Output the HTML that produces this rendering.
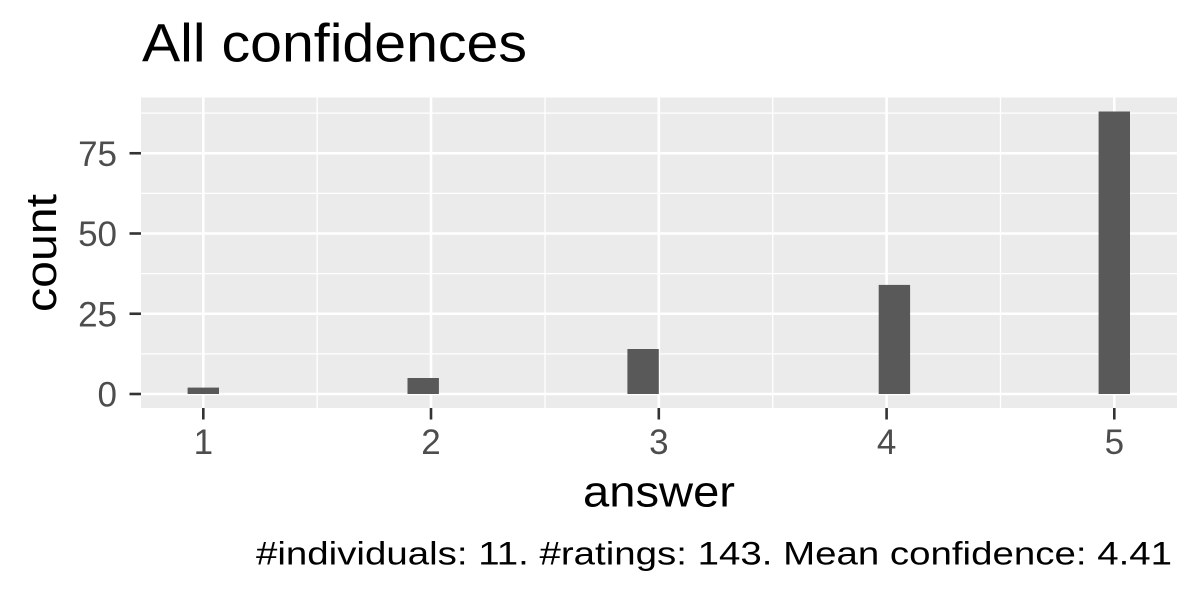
<!DOCTYPE html>
<html>
<head>
<meta charset="utf-8">
<style>
  html, body { margin: 0; padding: 0; background: #ffffff; }
  svg { display: block; }
  text { font-family: "Liberation Sans", "DejaVu Sans", sans-serif; }
</style>
</head>
<body>
<svg width="1200" height="600" viewBox="0 0 1200 600" xmlns="http://www.w3.org/2000/svg">
  <rect x="0" y="0" width="1200" height="600" fill="#ffffff"/>

  <!-- Title -->
  <text x="142" y="61.7" font-size="54" fill="#000000" textLength="385" lengthAdjust="spacingAndGlyphs">All confidences</text>

  <!-- Panel -->
  <rect x="141" y="97.5" width="1036" height="310.5" fill="#EBEBEB"/>

  <!-- Minor gridlines -->
  <g stroke="#ffffff" stroke-width="1.3">
    <line x1="141" x2="1177" y1="353.9" y2="353.9"/>
    <line x1="141" x2="1177" y1="273.6" y2="273.6"/>
    <line x1="141" x2="1177" y1="193.4" y2="193.4"/>
    <line x1="141" x2="1177" y1="113.1" y2="113.1"/>
    <line y1="97.5" y2="408" x1="317.2" x2="317.2"/>
    <line y1="97.5" y2="408" x1="545" x2="545"/>
    <line y1="97.5" y2="408" x1="772.7" x2="772.7"/>
    <line y1="97.5" y2="408" x1="1000.5" x2="1000.5"/>
  </g>
  <!-- Major gridlines -->
  <g stroke="#ffffff" stroke-width="2.6">
    <line x1="141" x2="1177" y1="394" y2="394"/>
    <line x1="141" x2="1177" y1="313.75" y2="313.75"/>
    <line x1="141" x2="1177" y1="233.5" y2="233.5"/>
    <line x1="141" x2="1177" y1="153.25" y2="153.25"/>
    <line y1="97.5" y2="408" x1="203.3" x2="203.3"/>
    <line y1="97.5" y2="408" x1="431" x2="431"/>
    <line y1="97.5" y2="408" x1="658.8" x2="658.8"/>
    <line y1="97.5" y2="408" x1="886.6" x2="886.6"/>
    <line y1="97.5" y2="408" x1="1114.3" x2="1114.3"/>
  </g>

  <!-- Bars -->
  <g fill="#595959">
    <rect x="187.6" y="387.6" width="31.4" height="6.4"/>
    <rect x="407.5" y="378" width="31.4" height="16"/>
    <rect x="627.4" y="349" width="31.4" height="45"/>
    <rect x="878.7" y="284.9" width="31.4" height="109.1"/>
    <rect x="1098.6" y="111.5" width="31.4" height="282.5"/>
  </g>

  <!-- Axis ticks -->
  <g stroke="#333333" stroke-width="2.6">
    <line x1="129.5" x2="141" y1="394" y2="394"/>
    <line x1="129.5" x2="141" y1="313.75" y2="313.75"/>
    <line x1="129.5" x2="141" y1="233.5" y2="233.5"/>
    <line x1="129.5" x2="141" y1="153.25" y2="153.25"/>
    <line y1="408" y2="419.5" x1="203.3" x2="203.3"/>
    <line y1="408" y2="419.5" x1="431" x2="431"/>
    <line y1="408" y2="419.5" x1="658.8" x2="658.8"/>
    <line y1="408" y2="419.5" x1="886.6" x2="886.6"/>
    <line y1="408" y2="419.5" x1="1114.3" x2="1114.3"/>
  </g>

  <!-- Y tick labels -->
  <g font-size="35" fill="#4D4D4D" text-anchor="end">
    <text x="117" y="406.7">0</text>
    <text x="117" y="326.5">25</text>
    <text x="117" y="246.2">50</text>
    <text x="117" y="166">75</text>
  </g>

  <!-- X tick labels -->
  <g font-size="35" fill="#4D4D4D" text-anchor="middle">
    <text x="203.3" y="454">1</text>
    <text x="431" y="454">2</text>
    <text x="658.8" y="454">3</text>
    <text x="886.6" y="454">4</text>
    <text x="1114.3" y="454">5</text>
  </g>

  <!-- Axis titles -->
  <text x="659" y="506.7" font-size="44" fill="#000000" text-anchor="middle" textLength="152" lengthAdjust="spacingAndGlyphs">answer</text>
  <text transform="translate(56,253) rotate(-90)" x="0" y="0" font-size="44" fill="#000000" text-anchor="middle" textLength="118" lengthAdjust="spacingAndGlyphs">count</text>

  <!-- Caption -->
  <text x="1172" y="564.3" font-size="32" fill="#000000" text-anchor="end" textLength="916" lengthAdjust="spacingAndGlyphs">#individuals: 11. #ratings: 143. Mean confidence: 4.41</text>
</svg>
</body>
</html>
